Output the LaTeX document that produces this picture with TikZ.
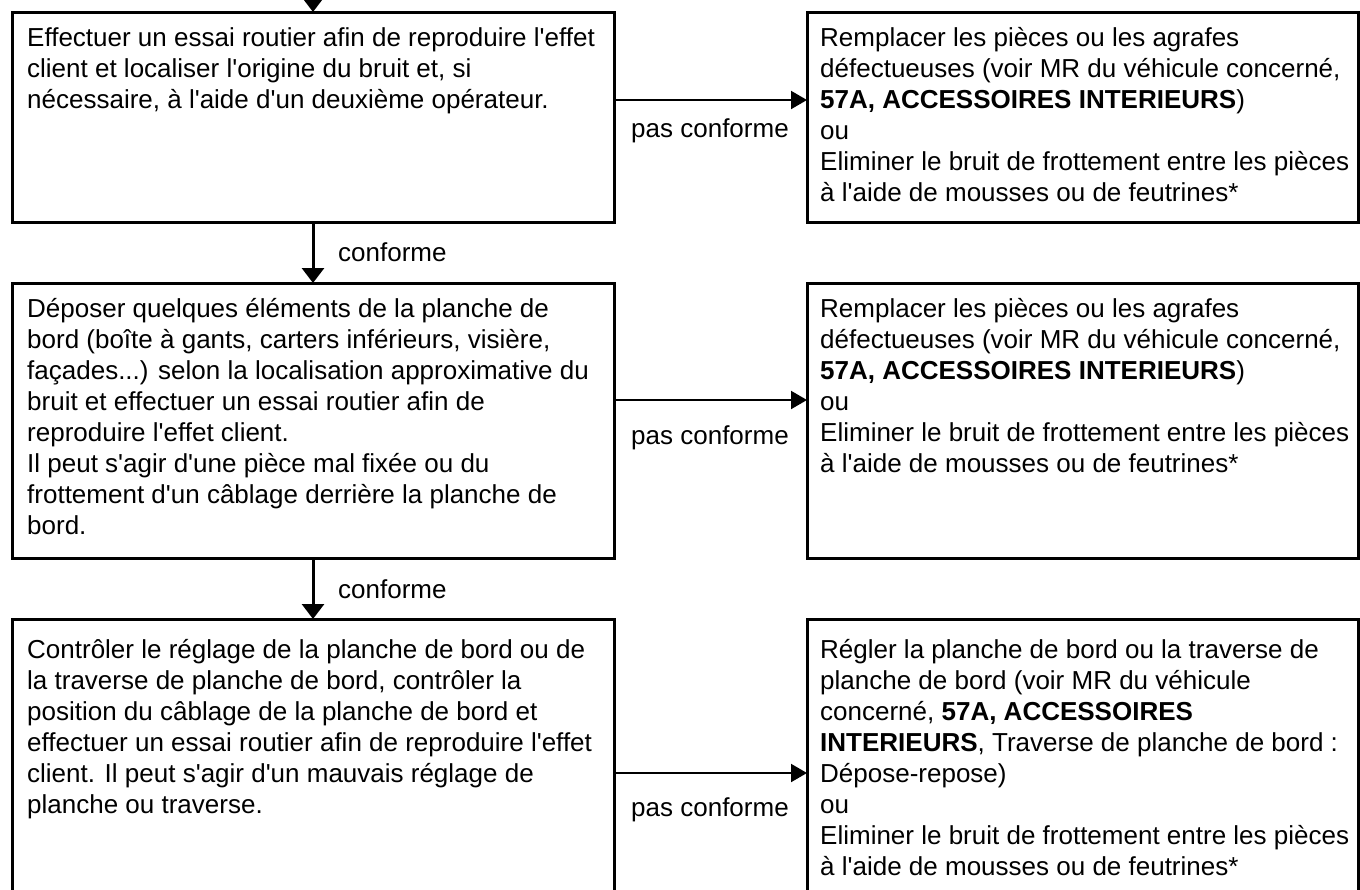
\documentclass[tikz,border=0pt]{standalone}
\usepackage{fontspec}
\setmainfont{Liberation Sans}[Ligatures=TeXOff]
\usetikzlibrary{arrows.meta}
\newcommand\fsz{\fontsize{26}{31}\selectfont}
\begin{document}
\begin{tikzpicture}[x=1pt,y=-1pt,
  box/.style={draw, line width=3pt, anchor=north west, inner sep=0pt, outer sep=0pt},
  txt/.style={anchor=north west, inner sep=0pt, align=left, font=\fsz},
  lbl/.style={inner sep=0pt, font=\fsz},
  harr/.style={line width=2pt, -{Triangle[length=16pt,width=18pt]}},
  varr/.style={line width=3pt, -{Triangle[length=15pt,width=22pt]}}]
\useasboundingbox (0,0) rectangle (1360,889);
% boxes
\node[box, minimum width=602pt, minimum height=210pt] (b1) at (12,12) {};
\node[box, minimum width=551pt, minimum height=210pt] (r1) at (807,12) {};
\node[box, minimum width=602pt, minimum height=275pt] (b2) at (12,283) {};
\node[box, minimum width=551pt, minimum height=275pt] (r2) at (807,283) {};
\node[box, minimum width=602pt, minimum height=340pt] (b3) at (12,619) {};
\node[box, minimum width=551pt, minimum height=340pt] (r3) at (807,619) {};
% texts
\node[txt] (t1) at (27,25) {\strut Effectuer un essai routier afin de reproduire l'effet\\client et localiser l'origine du bruit et, si\\nécessaire, à l'aide d'un deuxième opérateur.};
\node[txt] (s1) at (820,25) {\strut Remplacer les pièces ou les agrafes\\défectueuses (voir MR du véhicule concerné,\\\textbf{57A, ACCESSOIRES INTERIEURS})\\ou\\Eliminer le bruit de frottement entre les pièces\\à l'aide de mousses ou de feutrines*};
\node[txt] (t2) at (27,296) {\strut Déposer quelques éléments de la planche de\\bord (boîte à gants, carters inférieurs, visière,\\façades...) selon la localisation approximative du\\bruit et effectuer un essai routier afin de\\reproduire l'effet client.\\Il peut s'agir d'une pièce mal fixée ou du\\frottement d'un câblage derrière la planche de\\bord.};
\node[txt] (s2) at (820,296) {\strut Remplacer les pièces ou les agrafes\\défectueuses (voir MR du véhicule concerné,\\\textbf{57A, ACCESSOIRES INTERIEURS})\\ou\\Eliminer le bruit de frottement entre les pièces\\à l'aide de mousses ou de feutrines*};
\node[txt] (t3) at (27,637) {\strut Contrôler le réglage de la planche de bord ou de\\la traverse de planche de bord, contrôler la\\position du câblage de la planche de bord et\\effectuer un essai routier afin de reproduire l'effet\\client. Il peut s'agir d'un mauvais réglage de\\planche ou traverse.};
\node[txt] (s3) at (820,637) {\strut Régler la planche de bord ou la traverse de\\planche de bord (voir MR du véhicule\\concerné, \textbf{57A, ACCESSOIRES}\\\textbf{INTERIEURS}, Traverse de planche de bord :\\Dépose-repose)\\ou\\Eliminer le bruit de frottement entre les pièces\\à l'aide de mousses ou de feutrines*};
% connectors
\coordinate (in) at (313,-20);
\coordinate (h1) at (0,100);
\coordinate (h2) at (0,400);
\coordinate (h3) at (0,773);
\draw[varr] (in) -- (b1.north);
\draw[varr] (b1.south) -- (b2.north);
\draw[varr] (b2.south) -- (b3.north);
\draw[harr] (b1.east |- h1) -- (r1.west |- h1);
\draw[harr] (b2.east |- h2) -- (r2.west |- h2);
\draw[harr] (b3.east |- h3) -- (r3.west |- h3);
% labels
\node[lbl, anchor=west] (c1) at (338,252) {conforme};
\node[lbl, anchor=west] (c2) at (338,589) {conforme};
\node[lbl] (p1) at (710,131) {pas conforme};
\node[lbl] (p2) at (710,438) {pas conforme};
\node[lbl] (p3) at (710,810) {pas conforme};
\end{tikzpicture}
\end{document}
